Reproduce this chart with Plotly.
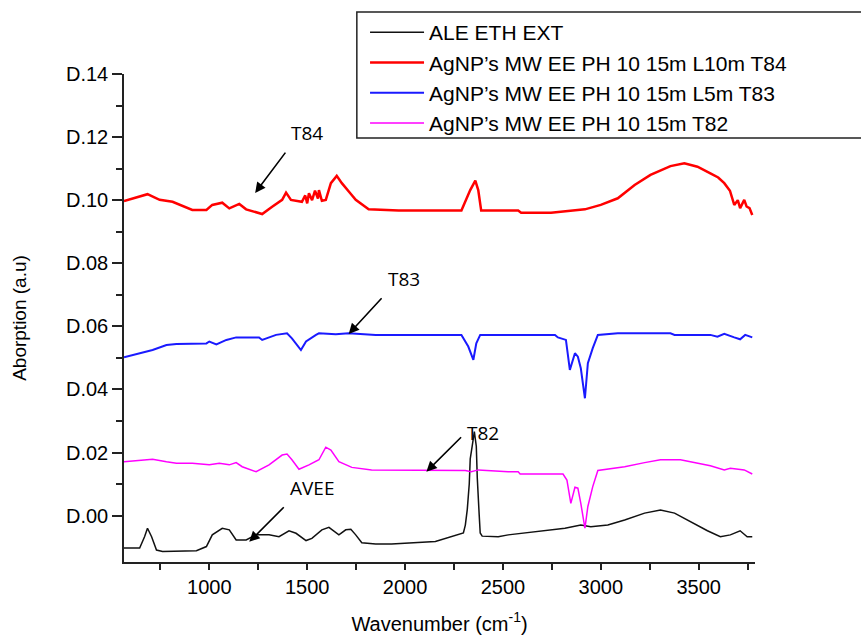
import plotly.graph_objects as go

# ---- data ----
wn_black = [564, 644, 669, 684, 705, 730, 761, 934, 985, 1015, 1066, 1102, 1137, 1188, 1239,
            1305, 1356, 1407, 1443, 1494, 1524, 1575, 1611, 1662, 1697, 1723, 1748, 1779, 1850,
            1931, 2155, 2272, 2298, 2308, 2318, 2328, 2333, 2343, 2354, 2364, 2369, 2379, 2384,
            2394, 2476, 2527, 2593, 2715, 2817, 2898, 2949, 3036, 3122, 3224, 3305, 3377, 3458,
            3545, 3611, 3662, 3712, 3748, 3774]
ab_black = [-0.0103, -0.0103, -0.0067, -0.0040, -0.0067, -0.0109, -0.0114, -0.0111, -0.0098,
            -0.0061, -0.0040, -0.0045, -0.0077, -0.0077, -0.0061, -0.0061, -0.0067, -0.0048,
            -0.0056, -0.0079, -0.0072, -0.0045, -0.0037, -0.0061, -0.0045, -0.0043, -0.0061,
            -0.0086, -0.0090, -0.0090, -0.0082, -0.0061, -0.0055, -0.0030, 0.0020, 0.0100,
            0.0180, 0.0220, 0.0266, 0.0220, 0.0120, 0.0000, -0.0055, -0.0065, -0.0067, -0.0061,
            -0.0056, -0.0048, -0.0040, -0.0030, -0.0035, -0.0030, -0.0014, 0.0008, 0.0018,
            0.0008, -0.0019, -0.0048, -0.0067, -0.0061, -0.0048, -0.0067, -0.0067]

wn_red = [564, 684, 746, 812, 913, 985, 1015, 1066, 1102, 1153, 1188, 1270, 1321, 1372, 1392,
          1417, 1473, 1490, 1500, 1509, 1525, 1540, 1555, 1560, 1575, 1595, 1621, 1651, 1677,
          1700, 1720, 1748, 1780, 1814, 1967, 2288, 2333, 2359, 2374, 2389, 2527, 2578, 2593,
          2746, 2919, 3000, 3087, 3173, 3254, 3356, 3427, 3494, 3560, 3600, 3631, 3660, 3682,
          3700, 3712, 3725, 3733, 3745, 3760, 3774]
ab_red = [0.0997, 0.1019, 0.1001, 0.0995, 0.0969, 0.0969, 0.0985, 0.0992, 0.0974, 0.0988,
          0.0971, 0.0956, 0.0979, 0.1001, 0.1024, 0.1001, 0.0995, 0.1015, 0.0990, 0.1022,
          0.1000, 0.1030, 0.1005, 0.1032, 0.0998, 0.1001, 0.1054, 0.1077, 0.1054, 0.1035,
          0.1022, 0.1001, 0.0985, 0.0971, 0.0967, 0.0967, 0.1032, 0.1062, 0.1032, 0.0967,
          0.0967, 0.0967, 0.0960, 0.0960, 0.0971, 0.0985, 0.1006, 0.1048, 0.1080, 0.1108,
          0.1117, 0.1106, 0.1085, 0.1072, 0.1054, 0.1030, 0.0985, 0.1000, 0.0975, 0.0990,
          0.1001, 0.0980, 0.0975, 0.0953]

wn_blue = [564, 661, 710, 781, 832, 985, 1000, 1036, 1087, 1137, 1254, 1270, 1341, 1397, 1422,
           1468, 1494, 1545, 1560, 1646, 1712, 1850, 2288, 2323, 2349, 2364, 2384, 2389, 2766,
           2781, 2822, 2842, 2868, 2883, 2898, 2919, 2934, 2959, 2985, 3087, 3356, 3377, 3560,
           3596, 3631, 3682, 3712, 3738, 3774]
ab_blue = [0.0502, 0.0517, 0.0525, 0.0541, 0.0544, 0.0546, 0.0552, 0.0543, 0.0557, 0.0565,
           0.0565, 0.0557, 0.0573, 0.0578, 0.0562, 0.0525, 0.0552, 0.0573, 0.0578, 0.0575,
           0.0578, 0.0573, 0.0573, 0.0536, 0.0494, 0.0546, 0.0573, 0.0573, 0.0573, 0.0565,
           0.0557, 0.0462, 0.0515, 0.0504, 0.0467, 0.0372, 0.0483, 0.0531, 0.0573, 0.0578,
           0.0578, 0.0573, 0.0573, 0.0567, 0.0576, 0.0565, 0.0559, 0.0573, 0.0565]

wn_mag = [564, 679, 710, 781, 832, 913, 1000, 1051, 1102, 1137, 1168, 1239, 1305, 1372, 1397,
          1422, 1458, 1509, 1560, 1595, 1621, 1662, 1728, 1829, 2308, 2338, 2374, 2527, 2578,
          2588, 2807, 2827, 2847, 2868, 2883, 2898, 2919, 2934, 2959, 2985, 3122, 3224, 3305,
          3407, 3478, 3560, 3631, 3662, 3733, 3774]
ab_mag = [0.0171, 0.0177, 0.0179, 0.0171, 0.0166, 0.0166, 0.0161, 0.0166, 0.0161, 0.0168,
          0.0155, 0.0139, 0.0161, 0.0192, 0.0195, 0.0177, 0.0147, 0.0161, 0.0177, 0.0217,
          0.0208, 0.0171, 0.0153, 0.0145, 0.0143, 0.0139, 0.0145, 0.0139, 0.0139, 0.0132,
          0.0132, 0.0113, 0.0039, 0.0090, 0.0087, 0.0039, -0.0040, 0.0029, 0.0092, 0.0143,
          0.0155, 0.0168, 0.0177, 0.0177, 0.0168, 0.0158, 0.0145, 0.0150, 0.0145, 0.0132]

series_names = ["ALE ETH EXT", "AgNP\u2019s MW EE PH 10 15m L10m T84",
                "AgNP\u2019s MW EE PH 10 15m L5m T83", "AgNP\u2019s MW EE PH 10 15m T82"]

ytick_vals = [0.00, 0.02, 0.04, 0.06, 0.08, 0.10, 0.12, 0.14]
ytick_text = ["D.00", "D.02", "D.04", "D.06", "D.08", "D.10", "D.12", "D.14"]
xtick_vals = [1000, 1500, 2000, 2500, 3000, 3500]

# annotations: label, arrow head (x, y), label corner (x, y), label anchor
ann_labels = ["T84", "T83", "T82", "AVEE"]
ann_head = [(1234, 0.1023), (1712, 0.0576), (2109, 0.0139), (1204, -0.0083)]
ann_corner = [(1407, 0.1166), (1901, 0.0703), (2308, 0.0262), (1402, 0.0040)]
ann_yanchor = ["bottom", "bottom", "middle", "bottom"]

fig = go.Figure()
fig.add_trace(go.Scatter(x=wn_black, y=ab_black, mode="lines", name=series_names[0],
                         line=dict(color="#111111", width=1.5)))
fig.add_trace(go.Scatter(x=wn_red, y=ab_red, mode="lines", name=series_names[1],
                         line=dict(color="#ff0000", width=2.5)))
fig.add_trace(go.Scatter(x=wn_blue, y=ab_blue, mode="lines", name=series_names[2],
                         line=dict(color="#1a1aff", width=2)))
fig.add_trace(go.Scatter(x=wn_mag, y=ab_mag, mode="lines", name=series_names[3],
                         line=dict(color="#ff00ff", width=1.5)))

annotations = []
for lab, h, c, ya in zip(ann_labels, ann_head, ann_corner, ann_yanchor):
    annotations.append(dict(x=h[0], y=h[1], ax=c[0], ay=c[1], xref="x", yref="y",
                            axref="x", ayref="y", text=lab, showarrow=True,
                            xanchor="left", yanchor=ya, startstandoff=6,
                            arrowhead=2, arrowsize=1.3, arrowwidth=1.6, arrowcolor="black",
                            font=dict(family="Open Sans", size=19, color="black")))

fig.update_layout(
    width=861, height=635,
    margin=dict(l=124, r=106, t=74, b=73, autoexpand=False),
    paper_bgcolor="white", plot_bgcolor="white",
    font=dict(family="Liberation Sans, Arial", size=20, color="black"),
    showlegend=True,
    legend=dict(x=0.382, y=1.127, xanchor="left", yanchor="top",
                bgcolor="rgba(0,0,0,0)", borderwidth=0,
                font=dict(family="Liberation Sans, Arial", size=21, color="black"),
                itemwidth=54, tracegroupgap=0),
    annotations=annotations,
    shapes=[dict(type="rect", xref="paper", yref="paper", x0=0.369, x1=1.2,
                 y0=0.869, y1=1.127, line=dict(color="#222222", width=1.5),
                 fillcolor="rgba(0,0,0,0)", layer="above")],
    xaxis=dict(range=[564, 3788], showgrid=False, zeroline=False, showline=True,
               linecolor="#222222", linewidth=1.5, ticks="outside", ticklen=6,
               tickwidth=1.5, tickcolor="#222222", tickvals=xtick_vals,
               tickfont=dict(size=20),
               minor=dict(tickvals=[750, 1250, 1750, 2250, 2750, 3250, 3750],
                          ticks="outside", ticklen=6, tickwidth=1.5, tickcolor="#222222"),
               title=dict(text="Wavenumber (cm<sup>-1</sup>)", font=dict(size=20), standoff=20)),
    yaxis=dict(range=[-0.0147, 0.14], showgrid=False, zeroline=False, showline=True,
               linecolor="#222222", linewidth=1.5, ticks="outside", ticklen=10,
               tickwidth=1.5, tickcolor="#222222", tickvals=ytick_vals, ticktext=ytick_text,
               tickfont=dict(size=20),
               minor=dict(tickvals=[0.01, 0.03, 0.05, 0.07, 0.09, 0.11, 0.13],
                          ticks="outside", ticklen=6, tickwidth=1.5, tickcolor="#222222"),
               title=dict(text="Aborption (a.u)", font=dict(size=19), standoff=34)),
)

fig.write_html("out.html", config={"displayModeBar": False},
               post_script="document.body.style.margin='0';document.body.style.overflow='hidden';")
